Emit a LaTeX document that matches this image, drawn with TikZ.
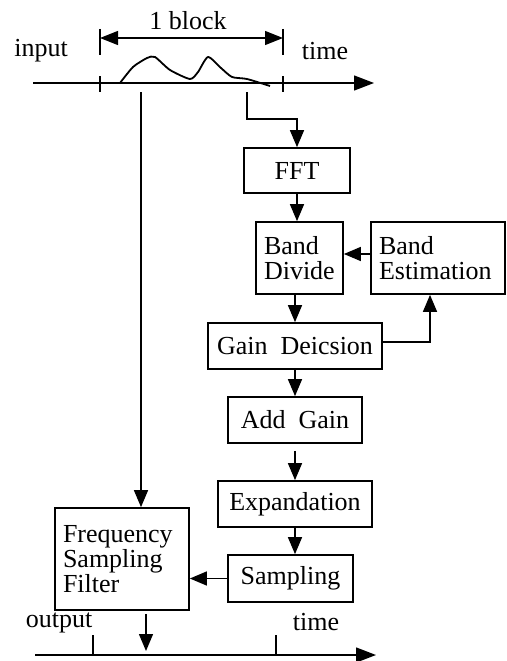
\documentclass[tikz,border=0pt]{standalone}
\usepackage{fontspec}
\setmainfont{Liberation Serif}
\usetikzlibrary{arrows.meta}

\begin{document}
\begin{tikzpicture}[x=1pt,y=-1pt,
    line width=1.4pt,
    font=\fontsize{26}{25}\selectfont,
    blk/.style={draw, line width=1.7pt, inner sep=0pt, align=center},
    txtblk/.style={draw, line width=1.7pt, inner xsep=8pt, inner ysep=0pt, align=left},
    tip/.style={-{Triangle[length=17pt,width=14pt]}},
    bigtip/.style={-{Triangle[length=20pt,width=15pt]}}]
            \useasboundingbox (0,0) rectangle (506,661);

            % Input signal
            \coordinate (inS) at (33,83);
            \coordinate (inE) at (374,83);
            \coordinate (bL) at (100,38);
            \coordinate (bR) at (283,38);
            \coordinate (tap1) at (141,92);
            \coordinate (tap2) at (247,92);
            \node (input) at (41,51) {input};
            \node (tin) at (325,51) {time};
            \node (blk) at (188,21) {1 block};
            \draw[bigtip] (inS) -- (inE);
            \foreach \x in {100,283} \draw (\x,76) -- (\x,92);
            \foreach \x in {100,283} \draw (\x,29) -- (\x,55);
            \draw[{Triangle[length=18pt,width=14pt]}-{Triangle[length=18pt,width=14pt]}] (bL) -- (bR);
            \draw[line width=1.8pt] plot[smooth, tension=0.4] coordinates {(120,83) (133,67) (147,58) (155,57) (170,70) (190,79) (198,72) (208,57) (221,68) (232,77) (247,79) (270,86)};

            % Blocks
            \node[blk, minimum width=106pt, minimum height=45pt] (fft) at (297,170.5) {FFT};
            \node[txtblk, text width=71pt, minimum height=72pt] (divide) at (299.5,258) {Band\\Divide};
            \node[txtblk, text width=118pt, minimum height=72pt] (estim) at (438,258) {Band\\Estimation};
            \node[blk, minimum width=174pt, minimum height=46pt] (gain) at (295,346) {Gain\ \ Deicsion};
            \node[blk, minimum width=134pt, minimum height=46pt] (addg) at (295,420) {Add\ \ Gain};
            \node[blk, minimum width=154pt, minimum height=46pt] (expand) at (295,504) {Expandation};
            \node[blk, minimum width=125pt, minimum height=47pt] (samp) at (290.5,578.5) {Sampling};
            \node[txtblk, text width=118pt, minimum height=102pt] (fsf) at (122,559) {Frequency\\Sampling\\Filter};

            % Connections
            \draw[tip] (tap2) -- ++(0,27) -| (fft.north);
            \draw[tip] (fft.south) -- (fft.south |- divide.north);
            \draw[tip] ([yshift=4pt]estim.west) -- ([yshift=4pt]divide.east);
            \draw[tip] (divide.south -| gain.north) -- (gain.north);
            \draw[tip] ([yshift=4pt]gain.east) -| ([xshift=-8pt]estim.south);
            \draw[tip] (gain.south) -- (addg.north);
            \draw[tip, shorten <=7pt] (addg.south) -- (expand.north);
            \draw[tip] (expand.south) -- (expand.south |- samp.north);
            \draw[tip] (samp.west) -- (samp.west -| fsf.east);
            \draw[tip] (tap1) -- (tap1 |- fsf.north);

            % Output signal
            \coordinate (outS) at (35,655);
            \coordinate (outE) at (376,655);
            \coordinate (outM) at (146,651);
            \node (output) at (59,623) {output};
            \node (tout) at (316,622) {time};
            \draw[tip, shorten <=3pt] (fsf.south -| outM) -- (outM);
            \draw[bigtip] (outS) -- (outE);
            \foreach \x in {93,276} \draw (\x,635) -- (\x,655);

        \end{tikzpicture}
\end{document}
